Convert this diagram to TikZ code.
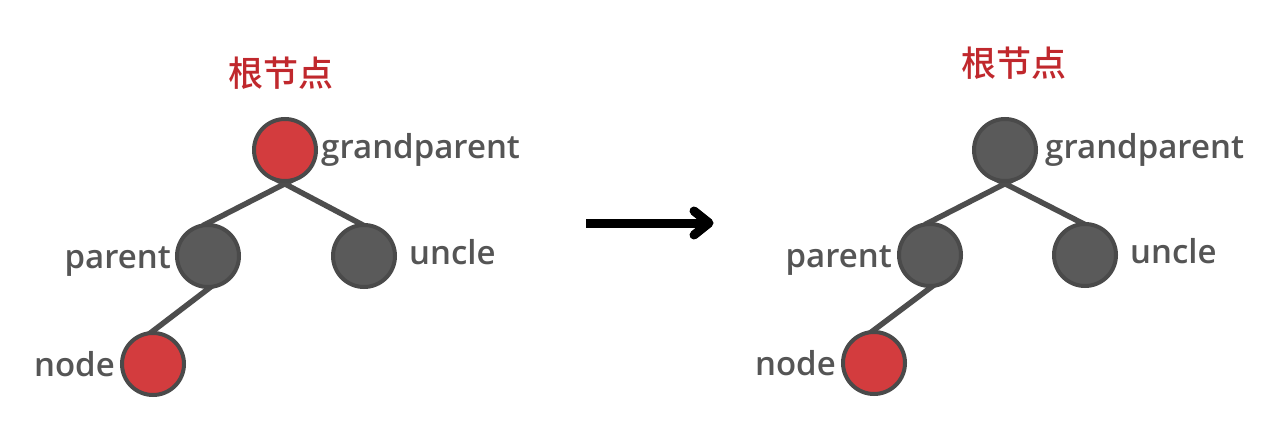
\documentclass[tikz,border=0pt]{standalone}
\usepackage{fontspec}
\setmainfont{Open Sans}
\newfontfamily\lblfont{Open Sans Semibold}
\newfontfamily\cjk{Noto Sans CJK SC Medium}
\usetikzlibrary{calc}
\pgfdeclarelayer{bg}
\pgfsetlayers{bg,main}
\definecolor{nodegray}{HTML}{5A5A5A}
\definecolor{rimgray}{HTML}{4A4A4A}
\definecolor{edgegray}{HTML}{4D4D4D}
\definecolor{nodered}{HTML}{D33C3E}
\definecolor{titlered}{HTML}{C0282D}
\definecolor{labelgray}{HTML}{555555}
\tikzset{
  tnode/.style={circle, minimum size=62pt, inner sep=0pt, line width=4pt, draw=rimgray},
  blacknode/.style={tnode, fill=nodegray},
  rednode/.style={tnode, fill=nodered},
  tedge/.style={draw=edgegray, line width=5.5pt},
  lbl/.style={inner sep=0pt, text=labelgray, font=\lblfont\fontsize{33}{36}\selectfont},
  title/.style={inner sep=0pt, text=titlered, font=\cjk\fontsize{35}{40}\selectfont},
  arrowline/.style={draw=black, line width=9pt},
}
\begin{document}
\begin{tikzpicture}[x=1pt, y=-1pt]
\begin{pgfonlayer}{bg}
\fill[white] (0,0) rectangle (1280,441);
\end{pgfonlayer}
\useasboundingbox (0,0) rectangle (1280,441);

% ---------- left tree ----------
\node[title] (t1) at (281,73) {根节点};
\node[rednode] (gp1) at (285,150) {};
\node[blacknode] (pa1) at (208,256) {};
\node[blacknode] (un1) at (364,256) {};
\node[rednode] (nd1) at (153,364) {};
\node[lbl, anchor=base west] (gpl1) at (321,159) {grandparent};
\node[lbl, anchor=base east] (pal1) at (171,268) {parent};
\node[lbl, anchor=base west] (unl1) at (409,264) {uncle};
\node[lbl, anchor=base east] (ndl1) at (115,376) {node};

% ---------- arrow ----------
\coordinate (a1) at (586,223);
\coordinate (a2) at (709,223);
\draw[arrowline] (a1) -- (a2);
\draw[arrowline, line cap=round, line join=round] ($(a2)+(-15,-12)$) -- (a2) -- ($(a2)+(-15,12)$);

% ---------- right tree ----------
\node[title] (t2) at (1014,63) {根节点};
\node[blacknode] (gp2) at (1005,150) {};
\node[blacknode] (pa2) at (930,255) {};
\node[blacknode] (un2) at (1085,255) {};
\node[rednode] (nd2) at (874,363) {};
\node[lbl, anchor=base west] (gpl2) at (1045,159) {grandparent};
\node[lbl, anchor=base east] (pal2) at (892,267) {parent};
\node[lbl, anchor=base west] (unl2) at (1130,263) {uncle};
\node[lbl, anchor=base east] (ndl2) at (836,375) {node};

% ---------- edges, behind the circles ----------
\begin{pgfonlayer}{bg}
\foreach \g/\p/\u/\n in {gp1/pa1/un1/nd1, gp2/pa2/un2/nd2}{
  \draw[tedge, shorten <=-6pt] (\p.north) -- ($(\g.center)+(15,26)$);
  \draw[tedge, shorten <=-6pt] ($(\u.north)+(-5,0)$) -- ($(\g.center)+(-15,26)$);
  \draw[tedge, shorten <=-5pt, shorten >=-5pt] (\p.south) -- (\n.north);
}
\end{pgfonlayer}
\end{tikzpicture}
\end{document}
